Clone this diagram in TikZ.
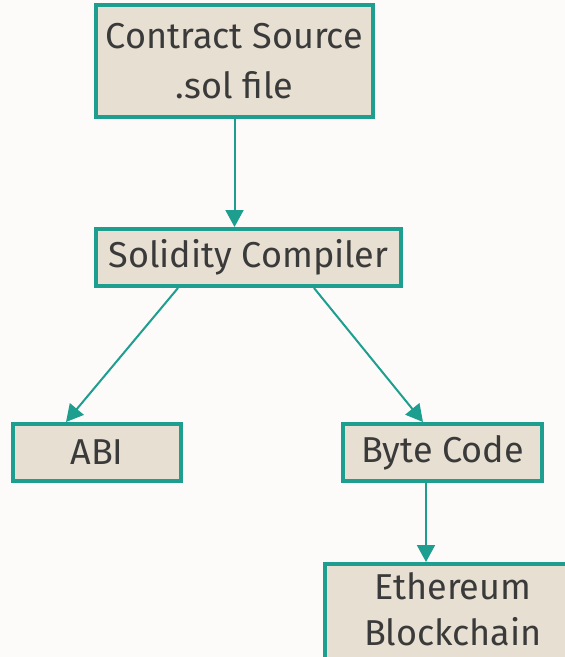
\documentclass[tikz,border=0pt]{standalone}
\usepackage{fontspec}
\setmainfont{Fira Sans}
\usetikzlibrary{arrows.meta,calc}
\definecolor{bg}{HTML}{FCFBFA}
\definecolor{boxfill}{HTML}{E7DFD1}
\definecolor{teal}{HTML}{1E9E8E}
\definecolor{txt}{HTML}{3A3A3A}
\tikzset{
  blk/.style={draw=teal, line width=4pt, fill=boxfill, text=txt, inner sep=0pt,
    font=\fontsize{36}{50}\selectfont, align=center},
  conn/.style={draw=teal, line width=2pt, -{Triangle[length=17pt,width=18pt]}},
}
\begin{document}
\begin{tikzpicture}[x=1pt,y=-1pt]
\fill[bg] (0,0) rectangle (565,657);
\useasboundingbox (0,0) rectangle (565,657);
\node[blk, minimum width=277pt, minimum height=112pt] (src) at (234.5,61) {Contract Source\\.sol file};
\node[blk, minimum width=305pt, minimum height=57pt] (comp) at (248.5,257.5) {Solidity Compiler};
\node[blk, minimum width=168pt, minimum height=57pt] (abi) at (97,452.5) {ABI};
\node[blk, minimum width=199pt, minimum height=57pt] (byte) at (442.5,452.5) {Byte Code};
\node[blk, minimum width=260pt, minimum height=93pt, anchor=north west] (eth) at (323,562)
  {\hspace*{39pt}\begin{tabular}{@{}c@{}}Ethereum\\[-4pt]Blockchain\end{tabular}\hspace*{60pt}};
\coordinate (c1) at ($(comp.south west)+(84,0)$);
\coordinate (a1) at ($(abi.north west)+(55,0)$);
\coordinate (c2) at ($(comp.south west)+(220,0)$);
\coordinate (b1) at ($(byte.north west)+(82,0)$);
\coordinate (b2) at ($(byte.south west)+(85,0)$);
\coordinate (e1) at (b2 |- eth.north);
\draw[conn] (src.south) -- (src.south |- comp.north);
\draw[conn] (c1) -- (a1);
\draw[conn] (c2) -- (b1);
\draw[conn] (b2) -- (e1);
\end{tikzpicture}
\end{document}
